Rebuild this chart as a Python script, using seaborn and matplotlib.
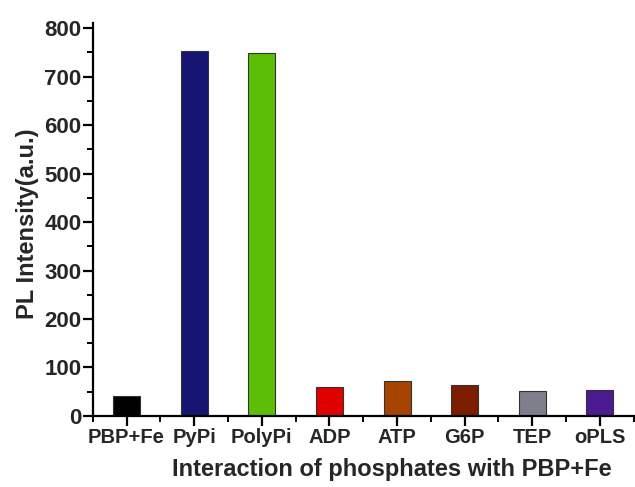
import matplotlib
matplotlib.use("Agg")
import matplotlib.pyplot as plt
from matplotlib.ticker import MultipleLocator, FixedLocator
import seaborn as sns
import pandas as pd

categories = ["PBP+Fe", "PyPi", "PolyPi", "ADP", "ATP", "G6P", "TEP", "oPLS"]
intensity = [41, 752, 748, 59, 71, 63, 52, 54]
bar_colors = ["#000000", "#161672", "#5cbf05", "#e00000", "#a64300", "#7c1d00", "#7f7f8c", "#4b1b92"]

sns.set_theme(style="ticks")
plt.rcParams["font.family"] = ["Liberation Sans", "DejaVu Sans"]
plt.rcParams["font.weight"] = "bold"

df = pd.DataFrame({"sample": categories, "pl": intensity})

fig = plt.figure(figsize=(6.35, 4.87), dpi=100)
ax = fig.add_axes([0.146, 0.146, 0.852, 0.807])

sns.barplot(data=df, x="sample", y="pl", hue="sample", palette=bar_colors,
            order=categories, hue_order=categories, legend=False,
            width=0.4, edgecolor="#333333", linewidth=0.8, saturation=1, ax=ax)

ax.set_xlim(-0.5, len(categories) - 0.5)
ax.set_ylim(0, 811)
ax.yaxis.set_major_locator(MultipleLocator(100))
ax.yaxis.set_minor_locator(MultipleLocator(50))
ax.xaxis.set_minor_locator(FixedLocator([i + 0.5 for i in range(-1, len(categories))]))

for side in ["top", "right"]:
    ax.spines[side].set_visible(False)
for side in ["left", "bottom"]:
    ax.spines[side].set_linewidth(1.6)
    ax.spines[side].set_color("black")

ax.tick_params(axis="both", which="major", direction="out", length=7, width=1.6, color="black")
ax.tick_params(axis="both", which="minor", direction="out", length=4, width=1.4, color="black")
ax.tick_params(axis="y", labelsize=16, pad=1)
ax.tick_params(axis="x", labelsize=14.5, pad=2)
for lbl in ax.get_xticklabels() + ax.get_yticklabels():
    lbl.set_fontweight("bold")

ax.set_xlabel("Interaction of phosphates with PBP+Fe", fontsize=17, fontweight="bold")
ax.set_ylabel("PL Intensity(a.u.)", fontsize=17, fontweight="bold")
ax.xaxis.set_label_coords(0.553, -0.108)
ax.yaxis.set_label_coords(-0.100, 0.49)

fig.savefig("out.png", dpi=100, facecolor="white")
